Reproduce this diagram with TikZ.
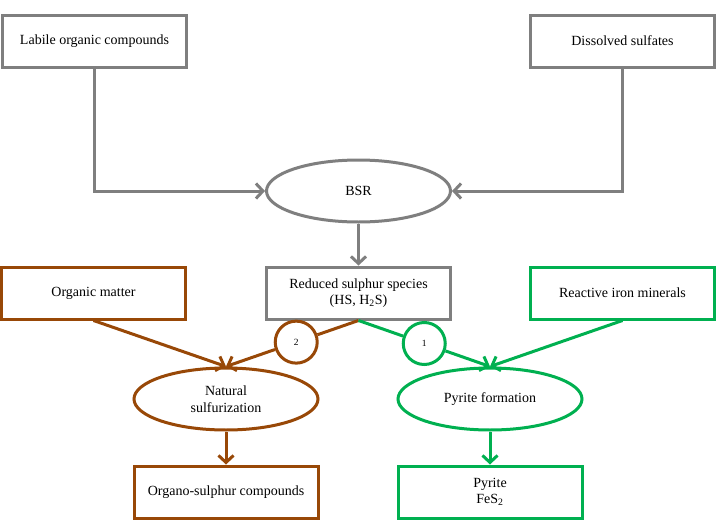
\documentclass[tikz,border=0pt]{standalone}
\usepackage{fontspec}
\setmainfont{Liberation Serif}
\usetikzlibrary{arrows.meta, positioning, shapes.geometric, calc}

\definecolor{bsrgray}{HTML}{7F7F7F}
\definecolor{sulfbrown}{HTML}{984807}
\definecolor{pyrgreen}{HTML}{00B050}

\begin{document}
\begin{tikzpicture}[
    x=1pt, y=1pt,
    font=\fontsize{14}{16.5}\selectfont,
    box/.style={rectangle, draw, line width=3pt, fill=white, minimum width=184pt, minimum height=52pt, align=center},
    oval/.style={ellipse, draw, line width=3pt, fill=white, minimum width=184pt, minimum height=62pt, align=center},
    graybox/.style={box, draw=bsrgray},
    brownbox/.style={box, draw=sulfbrown},
    greenbox/.style={box, draw=pyrgreen},
    grayoval/.style={oval, draw=bsrgray},
    brownoval/.style={oval, draw=sulfbrown},
    greenoval/.style={oval, draw=pyrgreen},
    numcircle/.style={circle, draw, line width=3pt, fill=white, minimum size=42pt, inner sep=0pt, font=\fontsize{9.5}{10}\selectfont},
    link/.style={line width=3pt},
    arrow/.style={link, -{Straight Barb[length=7pt, width=15pt]}}
]
\useasboundingbox (0,0) rectangle (724,-525);

% Top row
\node[graybox] (labile) at (94.5,-41) {Labile organic compounds};
\node[graybox, right=341pt of labile] (sulfates) {Dissolved sulfates};
\node[grayoval] (bsr) at (358.5,-191) {BSR};

% Middle row
\node[graybox, below=42pt of bsr] (reduced) {Reduced sulphur species\\(HS, H\textsubscript{2}S)};
\node[brownbox, left=78pt of reduced] (orgmatter) {Organic matter};
\node[greenbox, right=77pt of reduced] (iron) {Reactive iron minerals};

% Processes
\node[brownoval] (natsulf) at (226,-399) {Natural\\sulfurization};
\node[greenoval] (pyform) at (490,-399) {Pyrite formation};

% Products
\node[brownbox, below=33pt of natsulf] (organo) {Organo-sulphur compounds};
\node[greenbox, below=33pt of pyform] (pyrite) {Pyrite\\FeS\textsubscript{2}};

% Pathway numbers
\node[numcircle, draw=sulfbrown] (two) at ($(reduced.south)!0.47!(natsulf.north)$) {2};
\node[numcircle, draw=pyrgreen] (one) at ($(reduced.south)!0.50!(pyform.north)$) {1};

% Arrows
\draw[arrow, bsrgray] (labile) |- (bsr);
\draw[arrow, bsrgray] (sulfates) |- (bsr);
\draw[arrow, bsrgray] (bsr) -- (reduced);

\draw[link, sulfbrown] (reduced.south) -- (two);
\draw[arrow, sulfbrown] (two) -- (natsulf.north);
\draw[arrow, sulfbrown] (orgmatter.south) -- (natsulf.north);
\draw[arrow, sulfbrown] (natsulf) -- (organo);

\draw[link, pyrgreen] (reduced.south) -- (one);
\draw[arrow, pyrgreen] (one) -- (pyform.north);
\draw[arrow, pyrgreen] (iron.south) -- (pyform.north);
\draw[arrow, pyrgreen] (pyform) -- (pyrite);

\end{tikzpicture}
\end{document}
